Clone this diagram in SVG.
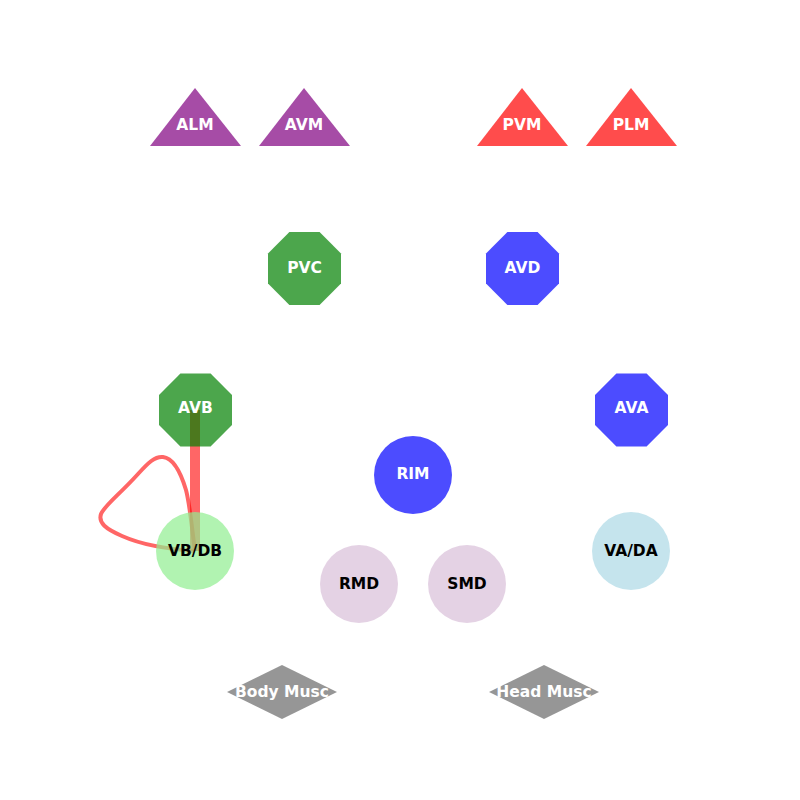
<svg xmlns="http://www.w3.org/2000/svg" width="800" height="800" viewBox="0 0 800 800">
  <defs>
    <style>
      .lbl { font-family: "DejaVu Sans", Verdana, sans-serif; font-weight: bold; font-size: 15.5px; text-anchor: middle; fill: #ffffff; }
      .dark { fill: #000000; }
      .node { opacity: 0.7; }
      .edge { fill: none; stroke: #ff0000; stroke-opacity: 0.6; stroke-linecap: butt; stroke-linejoin: round; }
    </style>
  </defs>
  <rect width="800" height="800" fill="#ffffff"/>

  <!-- connectors, drawn beneath the nodes -->
  <g id="edges">
    <line class="edge" x1="195" y1="410" x2="195" y2="551" stroke-width="10"/>
    <path class="edge" stroke-width="4" d="M195,551 C192,530 190,505 186,490 C180,470 172,458 163,457 C155,456 148,463 138,474 C120,494 104,506 101,514 C98,523 106,529 122,536 C140,544 165,549 195,551"/>
  </g>

  <!-- sensory neurons -->
  <g id="ALM"><polygon class="node" fill="#800080" points="195,88 241,146 150,146"/><text class="lbl" x="195" y="130">ALM</text></g>
  <g id="AVM"><polygon class="node" fill="#800080" points="304,88 350,146 259,146"/><text class="lbl" x="304" y="130">AVM</text></g>
  <g id="PVM"><polygon class="node" fill="#ff0000" points="522,88 568,146 477,146"/><text class="lbl" x="522" y="130">PVM</text></g>
  <g id="PLM"><polygon class="node" fill="#ff0000" points="631,88 677,146 586,146"/><text class="lbl" x="631" y="130">PLM</text></g>

  <!-- command interneurons -->
  <g id="PVC"><polygon class="node" fill="#008000" points="319.6,232 341,253.4 341,283.6 319.6,305 289.4,305 268,283.6 268,253.4 289.4,232"/><text class="lbl" x="304.5" y="273">PVC</text></g>
  <g id="AVD"><polygon class="node" fill="#0000ff" points="537.6,232 559,253.4 559,283.6 537.6,305 507.4,305 486,283.6 486,253.4 507.4,232"/><text class="lbl" x="522.5" y="273">AVD</text></g>
  <g id="AVB"><polygon class="node" fill="#008000" points="210.6,373.5 232,394.9 232,425.1 210.6,446.5 180.4,446.5 159,425.1 159,394.9 180.4,373.5"/><text class="lbl" x="195.5" y="413">AVB</text></g>
  <g id="AVA"><polygon class="node" fill="#0000ff" points="646.6,373.5 668,394.9 668,425.1 646.6,446.5 616.4,446.5 595,425.1 595,394.9 616.4,373.5"/><text class="lbl" x="631.5" y="413">AVA</text></g>

  <!-- ring and motor neurons -->
  <g id="RIM"><circle class="node" fill="#0000ff" cx="413" cy="475" r="39"/><text class="lbl" x="413" y="479">RIM</text></g>
  <g id="VB_DB"><circle class="node" fill="#90ee90" cx="195" cy="551" r="39"/><text class="lbl dark" x="195" y="556">VB/DB</text></g>
  <g id="VA_DA"><circle class="node" fill="#add8e6" cx="631" cy="551" r="39"/><text class="lbl dark" x="631" y="556">VA/DA</text></g>
  <g id="RMD"><circle class="node" fill="#d8bfd8" cx="359" cy="584" r="39"/><text class="lbl dark" x="359" y="589">RMD</text></g>
  <g id="SMD"><circle class="node" fill="#d8bfd8" cx="467" cy="584" r="39"/><text class="lbl dark" x="467" y="589">SMD</text></g>

  <!-- muscles -->
  <g id="BodyMusc"><polygon class="node" fill="#696969" points="282,665 337,692 282,719 227,692"/><text class="lbl" x="282" y="697">Body Musc</text></g>
  <g id="HeadMusc"><polygon class="node" fill="#696969" points="544,665 599,692 544,719 489,692"/><text class="lbl" x="544" y="697">Head Musc</text></g>
</svg>
